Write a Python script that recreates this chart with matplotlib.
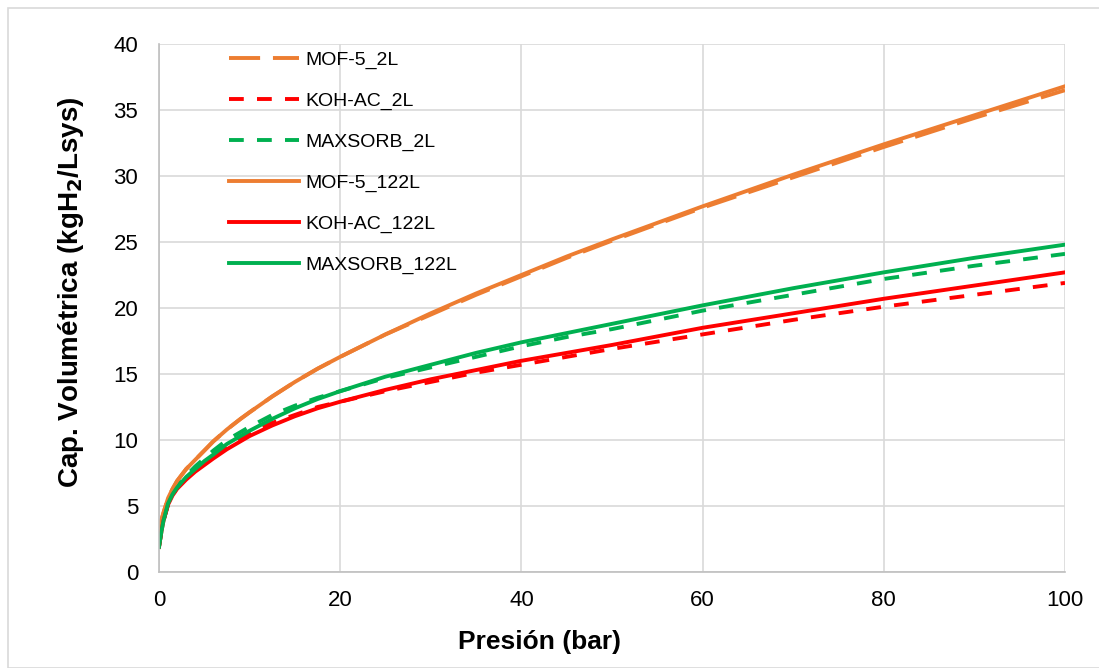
import matplotlib
matplotlib.use("Agg")
import matplotlib.pyplot as plt
from matplotlib.patches import Rectangle

plt.rcParams["font.family"] = ["Liberation Sans", "DejaVu Sans"]

# presion (bar)
p = [0, 0.25, 0.5, 1, 1.5, 2, 3, 4, 5, 6, 7.5, 9, 10, 12.5, 15, 17.5, 20, 25, 30, 35,
     40, 45, 50, 60, 70, 80, 90, 100]

mof_2l = [2.9, 3.9, 4.5, 5.6, 6.3, 6.9, 7.8, 8.5, 9.2, 9.9, 10.8, 11.6, 12.1, 13.3, 14.4, 15.4, 16.3, 18.0, 19.5, 21.0,
          22.4, 23.8, 25.1, 27.6, 29.9, 32.2, 34.4, 36.5]
koh_2l = [1.9, 3.0, 3.9, 5.1, 5.8, 6.4, 7.1, 7.7, 8.2, 8.7, 9.4, 10.1, 10.5, 11.3, 11.9, 12.5, 12.9, 13.7, 14.4, 15.1,
          15.7, 16.3, 16.9, 18.0, 19.1, 20.1, 21.0, 21.9]
max_2l = [1.9, 3.0, 3.9, 5.2, 5.9, 6.5, 7.3, 8.0, 8.6, 9.2, 10.0, 10.6, 11.0, 11.9, 12.6, 13.2, 13.7, 14.7, 15.5, 16.3,
          17.1, 17.8, 18.4, 19.8, 21.0, 22.2, 23.2, 24.1]
mof_122l = [2.9, 3.9, 4.5, 5.6, 6.3, 6.9, 7.8, 8.5, 9.2, 9.9, 10.8, 11.6, 12.1, 13.3, 14.4, 15.4, 16.3, 18.0, 19.6, 21.1,
            22.5, 23.9, 25.2, 27.7, 30.1, 32.4, 34.6, 36.8]
koh_122l = [1.9, 3.0, 3.9, 5.1, 5.8, 6.3, 7.0, 7.6, 8.1, 8.6, 9.3, 9.9, 10.3, 11.1, 11.8, 12.4, 12.9, 13.8, 14.6, 15.3,
            16.0, 16.6, 17.2, 18.5, 19.6, 20.7, 21.7, 22.7]
max_122l = [1.9, 3.0, 3.9, 5.2, 5.9, 6.4, 7.2, 7.8, 8.4, 8.9, 9.7, 10.3, 10.7, 11.6, 12.4, 13.1, 13.7, 14.8, 15.7, 16.6,
            17.4, 18.1, 18.8, 20.2, 21.5, 22.7, 23.8, 24.8]

orange = "#ED7D31"
red = "#FF0000"
green = "#00B050"

fig = plt.figure(figsize=(10.99, 6.68), dpi=100)
ax = fig.add_axes([159/1099, 1 - 572/668, (1065-159)/1099, (572-44)/668])

lw = 2.8
ax.plot(p, mof_2l, color=orange, lw=lw, dashes=(8, 3.3), label="MOF-5_2L")
ax.plot(p, koh_2l, color=red, lw=lw, dashes=(3.8, 3.4), label="KOH-AC_2L")
ax.plot(p, max_2l, color=green, lw=lw, dashes=(3.8, 3.4), label="MAXSORB_2L")
ax.plot(p, mof_122l, color=orange, lw=lw, label="MOF-5_122L")
ax.plot(p, koh_122l, color=red, lw=lw, label="KOH-AC_122L")
ax.plot(p, max_122l, color=green, lw=lw, label="MAXSORB_122L")

ax.set_xlim(0, 100)
ax.set_ylim(0, 40)
ax.set_xticks(range(0, 101, 20))
ax.set_yticks(range(0, 41, 5))
ax.grid(True, color="#d9d9d9", lw=1.2)
ax.set_axisbelow(True)
for s in ["top", "right"]:
    ax.spines[s].set_visible(False)
for s in ["left", "bottom"]:
    ax.spines[s].set_color("#bfbfbf")
    ax.spines[s].set_linewidth(1.2)
ax.tick_params(length=0, labelsize=16)
ax.tick_params(axis="x", pad=13)
ax.tick_params(axis="y", pad=15)

ax.set_xlabel("Presión (bar)", fontsize=19, fontweight="bold")
ax.xaxis.set_label_coords((539 - 159) / 906, -0.11)
ax.set_ylabel("Cap. Volumétrica (kgH$\\mathbf{_2}$/Lsys)", fontsize=20, fontweight="bold")
ax.yaxis.set_label_coords(-0.081, 0.53)

ax.legend(loc="upper left", bbox_to_anchor=(0.058, 1.02), frameon=False, fontsize=14,
          handlelength=3.6, handletextpad=0.3, labelspacing=1.2)

fig.patches.append(Rectangle((8/1099, 0), 1, 1 - 8/668, transform=fig.transFigure,
                             fill=False, edgecolor="#d9d9d9", lw=1.2))

fig.savefig("out.png", dpi=100)
